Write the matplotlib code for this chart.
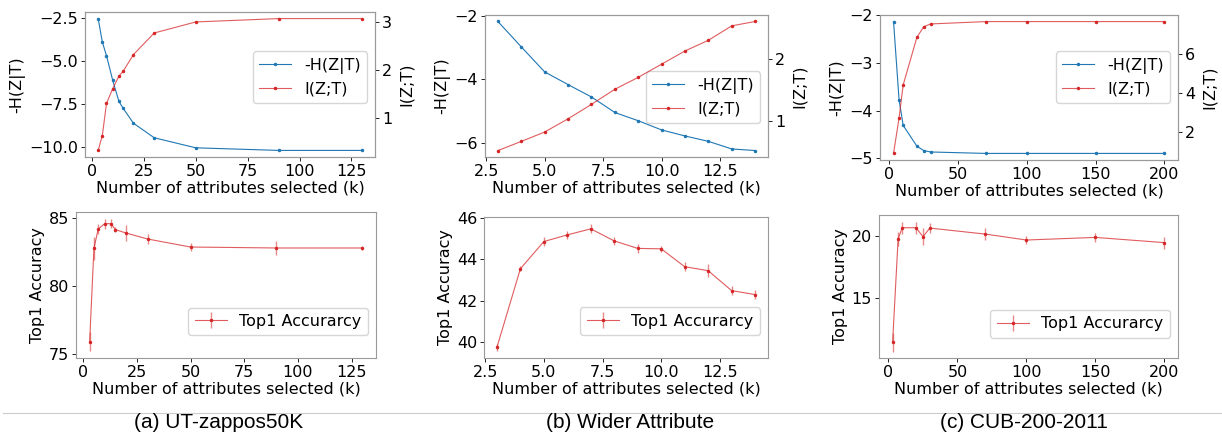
import numpy as np
import matplotlib
matplotlib.use('Agg')
import matplotlib.pyplot as plt
from matplotlib.ticker import MultipleLocator

# ---- data ----
k_zappos = [3, 5, 7, 10, 13, 15, 20, 30, 50, 90, 130]
negH_zappos = [-2.55, -3.91, -4.69, -6.12, -7.34, -7.73, -8.60, -9.44, -10.02, -10.17, -10.17]
I_zappos = [0.33, 0.64, 1.31, 1.62, 1.88, 1.98, 2.33, 2.78, 3.01, 3.08, 3.08]
acc_zappos = [75.91, 82.79, 84.22, 84.61, 84.61, 84.17, 83.92, 83.48, 82.89, 82.82, 82.82]
err_zappos = [0.70, 0.86, 0.34, 0.37, 0.34, 0.20, 0.56, 0.39, 0.30, 0.52, 0.18]

k_wider = [3, 4, 5, 6, 7, 8, 9, 10, 11, 12, 13, 14]
negH_wider = [-2.18, -2.98, -3.77, -4.17, -4.56, -5.05, -5.31, -5.60, -5.79, -5.96, -6.20, -6.25]
I_wider = [0.535, 0.68, 0.83, 1.04, 1.27, 1.51, 1.70, 1.91, 2.12, 2.29, 2.52, 2.59]
acc_wider = [39.76, 43.54, 44.85, 45.17, 45.46, 44.88, 44.52, 44.50, 43.64, 43.45, 42.49, 42.30]
err_wider = [0.18, 0.13, 0.22, 0.21, 0.21, 0.20, 0.20, 0.14, 0.21, 0.30, 0.21, 0.22]

k_cub = [3, 7, 10, 20, 25, 30, 70, 100, 150, 200]
negH_cub = [-2.13, -3.77, -4.31, -4.75, -4.84, -4.87, -4.90, -4.90, -4.90, -4.90]
I_cub = [0.90, 2.71, 4.40, 6.84, 7.38, 7.52, 7.64, 7.64, 7.64, 7.64]
acc_cub = [11.44, 19.76, 20.67, 20.67, 19.95, 20.64, 20.16, 19.68, 19.89, 19.47]
err_cub = [0.73, 0.56, 0.50, 0.48, 0.66, 0.37, 0.45, 0.30, 0.37, 0.48]

captions = ['(a) UT-zappos50K', '(b) Wider Attribute', '(c) CUB-200-2011']
x_steps = [25, 2.5, 50]

W, H = 1222, 432
fig = plt.figure(figsize=(W/100, H/100), dpi=100)

def box(l, t, r, b):
    return [l/W, 1 - b/H, (r-l)/W, (b-t)/H]

top_boxes = [(85, 12, 375, 157), (485, 15, 768, 157), (880, 15, 1178, 160)]
bot_boxes = [(76, 212, 376, 358), (484, 217, 768, 358), (879, 215, 1178, 358)]
top_leg_y = [0.55, 0.42, 0.57]
bot_leg_y = [0.25, 0.26, 0.24]

blue = '#1f77b4'
red = '#d62728'
red_line = (0.84, 0.15, 0.16, 0.75)
spine_c = '#9a9a9a'
fs = 11.5

def style(ax):
    for s in ax.spines.values():
        s.set_color(spine_c)
        s.set_linewidth(0.8)
    ax.tick_params(labelsize=fs, length=3, width=0.6, pad=2)

series = [
    (k_zappos, negH_zappos, I_zappos, acc_zappos, err_zappos),
    (k_wider, negH_wider, I_wider, acc_wider, err_wider),
    (k_cub, negH_cub, I_cub, acc_cub, err_cub),
]

for i, (k, negH, I, acc, err) in enumerate(series):
    ax = fig.add_axes(box(*top_boxes[i]))
    l1, = ax.plot(k, negH, '.-', color=blue, lw=0.8, ms=3, label='-H(Z|T)')
    ax.set_ylabel('-H(Z|T)', fontsize=fs, labelpad=3)
    ax.set_xlabel('Number of attributes selected (k)', fontsize=fs, labelpad=1)
    ax.xaxis.set_major_locator(MultipleLocator(x_steps[i]))
    ax2 = ax.twinx()
    l2, = ax2.plot(k, I, '.-', color=red_line, mfc=red, mec=red, lw=0.8, ms=3, label='I(Z;T)')
    ax2.set_ylabel('I(Z;T)', fontsize=fs, labelpad=5)
    style(ax)
    style(ax2)
    ax.legend([l1, l2], ['-H(Z|T)', 'I(Z;T)'], fontsize=fs, loc='center right',
              bbox_to_anchor=(1, top_leg_y[i]))

    bx = fig.add_axes(box(*bot_boxes[i]))
    bx.errorbar(k, acc, yerr=err, fmt='.-', color=red_line, mfc=red, mec=red,
                ecolor=(0.84, 0.15, 0.16, 0.55), lw=0.8, ms=3, elinewidth=1.0,
                label='Top1 Accurarcy')
    if i == 1:
        bx.set_ylim(39.25, 46.03)
    bx.xaxis.set_major_locator(MultipleLocator(x_steps[i]))
    bx.set_ylabel('Top1 Accuracy', fontsize=fs, labelpad=3)
    bx.set_xlabel('Number of attributes selected (k)', fontsize=fs, labelpad=1)
    style(bx)
    bx.legend(fontsize=fs, loc='center right', bbox_to_anchor=(1, bot_leg_y[i]))

# captions and separator line
fig.add_artist(plt.Line2D([3/W, 1], [1 - 413/H, 1 - 413/H], color='#cccccc', lw=0.8))
for x, c in zip([219, 630, 1024], captions):
    fig.text(x/W, 1 - 423/H, c, ha='center', va='center', fontsize=15,
             family='Liberation Sans')

fig.savefig('out.png', dpi=100)
